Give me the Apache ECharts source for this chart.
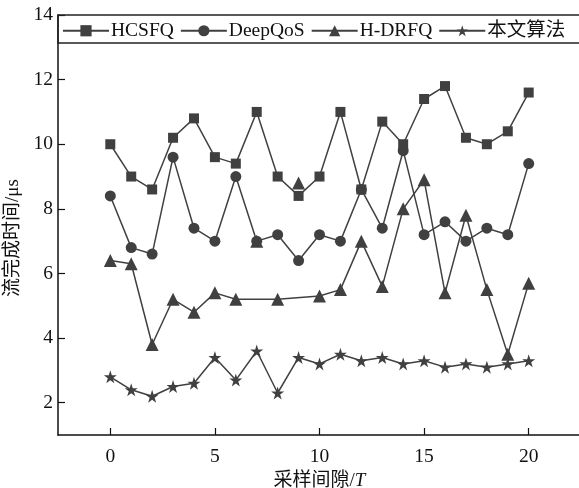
<!DOCTYPE html>
<html>
<head>
<meta charset="utf-8">
<script src="https://cdn.jsdelivr.net/npm/echarts@6/dist/echarts.min.js"></script>
<style>
html,body{margin:0;padding:0;background:#fff;}
#main{width:579px;height:488px;}
</style>
</head>
<body>
<div id="main"></div>
<script>
// 数据
var xData = [0,1,2,3,4,5,6,7,8,9,10,11,12,13,14,15,16,17,18,19,20];
var hcsfq = [10.0,9.0,8.6,10.2,10.8,9.6,9.4,11.0,9.0,8.4,9.0,11.0,8.6,10.7,10.0,11.4,11.8,10.2,10.0,10.4,11.6];
var deepqos = [8.4,6.8,6.6,9.6,7.4,7.0,9.0,7.0,7.2,6.4,7.2,7.0,8.6,7.4,9.8,7.2,7.6,7.0,7.4,7.2,9.4];
// H-DRFQ 折线在 7、9 处断开，另有两个孤立点
var hdrfq = [6.4,6.3,3.8,5.2,4.8,5.4,5.2,null,5.2,null,5.3,5.5,7.0,5.6,8.0,8.9,5.4,7.8,5.5,3.5,5.7];
var hdrfqExtra = [[7,7.0],[9,8.8]];
var ours = [2.8,2.4,2.2,2.5,2.6,3.4,2.7,3.6,2.3,3.4,3.2,3.5,3.3,3.4,3.2,3.3,3.1,3.2,3.1,3.2,3.3];
var xTicks = [0,5,10,15,20];
var yTicks = [2,4,6,8,10,12,14];

function pairs(arr){
	return arr.map(function(v,i){ return [xData[i], v]; });
}

var myChart = echarts.init(document.getElementById('main'));
var c = '#404040';
var font = "'Liberation Serif','Noto Sans CJK SC',serif";
var star = 'path://M50,0 L61.8,35.3 L100,35.3 L69.1,57.1 L80.9,92.7 L50,70.9 L19.1,92.7 L30.9,57.1 L0,35.3 L38.2,35.3 Z';

var option = {
	animation: false,
	textStyle: { fontFamily: font, color: '#111' },
	grid: { left: 58, top: 15, right: -2, bottom: 53, outerBoundsMode: 'none' },
	legend: {
		left: 57, top: 16,
		itemWidth: 46, itemHeight: 14, itemGap: 6,
		textStyle: { fontSize: 19.5, fontFamily: font, color: '#111', padding: [0,0,0,-3] },
		data: ['HCSFQ','DeepQoS','H-DRFQ','本文算法']
	},
	graphic: [{
		type: 'rect',
		shape: { x: 58, y: 15, width: 540, height: 28 },
		style: { fill: 'none', stroke: '#222', lineWidth: 1.5 },
		z: 100
	}],
	xAxis: {
		type: 'value', min: -2.5, max: 22.5,
		name: '采样间隙/{i|T}', nameLocation: 'middle', nameGap: 36,
		nameTextStyle: { fontSize: 19, color: '#111', fontFamily: font,
			rich: { i: { fontStyle: 'italic', fontSize: 19, fontFamily: font } } },
		axisLine: { onZero: false, lineStyle: { color: '#111', width: 1.5 } },
		axisTick: { inside: true, length: 7, lineStyle: { color: '#111', width: 1.2 }, customValues: xTicks },
		axisLabel: { fontSize: 19.5, color: '#111', margin: 12, customValues: xTicks },
		splitLine: { show: false }
	},
	yAxis: {
		type: 'value', min: 1, max: 14,
		name: '流完成时间/μs', nameLocation: 'middle', nameGap: 30,
		nameTextStyle: { fontSize: 19, color: '#111', fontFamily: font, padding: [0, 26, 0, 0] },
		axisLine: { show: true, onZero: false, lineStyle: { color: '#111', width: 1.5 } },
		axisTick: { show: true, inside: true, length: 7, lineStyle: { color: '#111', width: 1.2 }, customValues: yTicks },
		axisLabel: { fontSize: 19.5, color: '#111', margin: 5, customValues: yTicks },
		splitLine: { show: false }
	},
	series: [
		{
			name: 'HCSFQ', type: 'line', data: pairs(hcsfq),
			symbol: 'rect', symbolSize: 10,
			itemStyle: { color: c }, lineStyle: { color: c, width: 1.5 }
		},
		{
			name: 'DeepQoS', type: 'line', data: pairs(deepqos),
			symbol: 'circle', symbolSize: 11,
			itemStyle: { color: c }, lineStyle: { color: c, width: 1.5 }
		},
		{
			name: 'H-DRFQ', type: 'line', data: pairs(hdrfq), connectNulls: true,
			symbol: 'triangle', symbolSize: 13,
			itemStyle: { color: c }, lineStyle: { color: c, width: 1.5 }
		},
		{
			name: 'H-DRFQ', type: 'scatter', data: hdrfqExtra,
			symbol: 'triangle', symbolSize: 13,
			itemStyle: { color: c, opacity: 1 }
		},
		{
			name: '本文算法', type: 'line', data: pairs(ours),
			symbol: star, symbolSize: 13,
			itemStyle: { color: c }, lineStyle: { color: c, width: 1.5 }
		}
	]
};
myChart.setOption(option);
</script>
</body>
</html>
